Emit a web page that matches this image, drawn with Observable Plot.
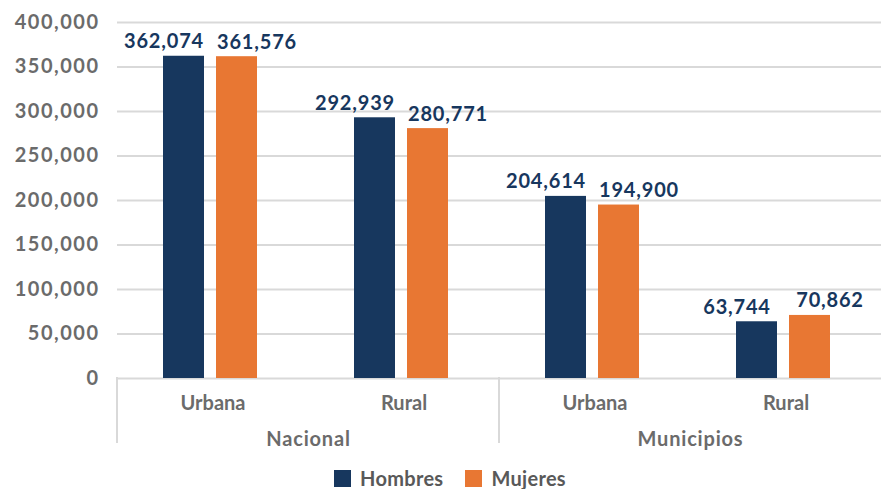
<!DOCTYPE html>
<html>
<head>
<meta charset="utf-8">
<script src="https://cdn.jsdelivr.net/npm/d3@7"></script>
<script src="https://cdn.jsdelivr.net/npm/@observablehq/plot@0.6"></script>
<style>
  html, body { margin: 0; padding: 0; background: #fff; }
  #wrap { position: relative; width: 882px; height: 489px; font-family: Lato, "Noto Sans", sans-serif; }
  #legend { position: absolute; left: 0; top: 469px; width: 882px; height: 19px; display: flex; justify-content: center; align-items: center; padding-left: 18px; box-sizing: border-box; }
  .item { display: flex; align-items: center; margin: 0 11px; font-size: 20px; line-height: 19px; height: 19px; font-weight: 700; color: #595959; letter-spacing: 0.3px; }
  .sw { width: 17px; height: 17px; margin-right: 9px; }
</style>
</head>
<body>
<div id="wrap"><div id="chart"></div><div id="legend"></div></div>
<script>
const groups = ["Nacional", "Nacional", "Municipios", "Municipios"];
const zones = ["Urbana", "Rural", "Urbana", "Rural"];
const hombres = [362074, 292939, 204614, 63744];
const mujeres = [361576, 280771, 194900, 70862];
const series = ["Hombres", "Mujeres"];
const colors = ["#17375E", "#E87733"];
const yTicks = [0, 50000, 100000, 150000, 200000, 250000, 300000, 350000, 400000];

const keys = groups.map((g, i) => g + "·" + zones[i]);
const data = [];
keys.forEach((k, i) => {
  data.push({key: k, sex: series[0], value: hombres[i]});
  data.push({key: k, sex: series[1], value: mujeres[i]});
});
const groupLabels = [];
groups.forEach((g, i) => { if (i === 0 || groups[i - 1] !== g) groupLabels.push({key: keys[i], label: g}); });
const fmt = d3.format(",");
const labelStyle = {fill: "#17375E", fontWeight: 700, fontSize: 20, lineAnchor: "bottom", dy: -8};

const plot = Plot.plot({
  width: 882,
  height: 460,
  marginLeft: 115,
  marginRight: 0,
  marginTop: 22,
  marginBottom: 82,
  style: {fontFamily: "Lato, 'Noto Sans', sans-serif", fontSize: "20px", fontWeight: 700, color: "#6b6b6b", background: "#fff"},
  fx: {domain: keys, padding: 0, tickSize: 0, tickPadding: 17, tickFormat: k => zones[keys.indexOf(k)], label: null},
  x: {domain: series, paddingInner: 0.222, paddingOuter: 0.886, align: 0.48, axis: null},
  y: {domain: [0, 400000], ticks: yTicks, tickFormat: fmt, tickSize: 0, tickPadding: 18, label: null},
  color: {domain: series, range: colors},
  marks: [
    Plot.ruleY(yTicks, {stroke: "#d9d9d9", strokeWidth: 2}),
    Plot.barY(data, {fx: "key", x: "sex", y: "value", fill: "sex"}),
    Plot.text(data.filter(d => d.sex === series[0]), {fx: "key", x: "sex", y: "value", text: d => fmt(d.value), dx: -20, ...labelStyle}),
    Plot.text(data.filter(d => d.sex === series[1]), {fx: "key", x: "sex", y: "value", text: d => fmt(d.value), dx: 20, ...labelStyle}),
    Plot.text(groupLabels, {fx: "key", text: "label", frameAnchor: "bottom-right", textAnchor: "middle", lineAnchor: "top", dy: 53, fill: "#6b6b6b", fontSize: 20, fontWeight: 700})
  ]
});

d3.select(plot).selectAll("g[aria-label='y-axis tick label'] text").style("letter-spacing", "1.5px");
d3.select(plot).selectAll("g[aria-label='text'] text").style("letter-spacing", "0.8px");
const fxs = plot.scale("fx");
const ys = plot.scale("y");
const y0 = ys.apply(0);
groupLabels.forEach(g => {
  const x = fxs.apply(g.key);
  d3.select(plot).append("line")
    .attr("x1", x).attr("x2", x).attr("y1", y0 - 1).attr("y2", y0 + 65)
    .attr("stroke", "#d9d9d9").attr("stroke-width", 2);
});
document.getElementById("chart").appendChild(plot);

const legend = document.getElementById("legend");
series.forEach((s, i) => {
  const it = document.createElement("div");
  it.className = "item";
  it.innerHTML = `<span class="sw" style="background:${colors[i]}"></span><span>${s}</span>`;
  legend.appendChild(it);
});
</script>
</body>
</html>
